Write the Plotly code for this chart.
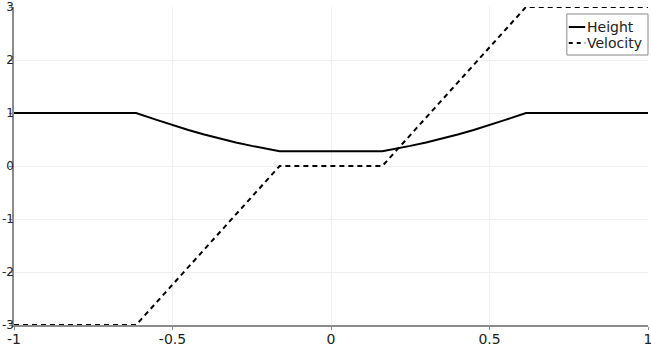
import plotly.graph_objects as go

x_height = [-1.0, -0.615, -0.55, -0.5, -0.45, -0.4, -0.35, -0.3, -0.25, -0.2, -0.162,
            0.162, 0.2, 0.25, 0.3, 0.35, 0.4, 0.45, 0.5, 0.55, 0.615, 1.0]
height = [1.0, 1.0, 0.87, 0.77, 0.68, 0.595, 0.515, 0.445, 0.38, 0.32, 0.28,
          0.28, 0.32, 0.38, 0.445, 0.515, 0.595, 0.68, 0.77, 0.87, 1.0, 1.0]
x_velocity = [-1.0, -0.615, -0.162, 0.162, 0.615, 1.0]
velocity = [-3.0, -3.0, 0.0, 0.0, 3.0, 3.0]

x_ticks = [-1, -0.5, 0, 0.5, 1]
x_ticklabels = ["-1", "-0.5", "0", "0.5", "1"]
y_ticks = [-3, -2, -1, 0, 1, 2, 3]
y_ticklabels = ["-3", "-2", "-1", "0", "1", "2", "3"]

FONT = "DejaVu Sans"

fig = go.Figure()
fig.add_trace(go.Scatter(x=x_height, y=height, mode="lines", name="Height",
                         line=dict(color="black", width=2), cliponaxis=False))
fig.add_trace(go.Scatter(x=x_velocity, y=velocity, mode="lines", name="Velocity",
                         line=dict(color="black", width=2, dash="5px,4px"), cliponaxis=False))

axis_common = dict(showgrid=True, gridcolor="#efefef", gridwidth=1,
                   showline=True, linecolor="#8c8c8c", linewidth=1.5,
                   ticks="outside", ticklen=3, tickcolor="#8c8c8c",
                   zeroline=False, automargin=False, ticklabeloverflow="allow")

fig.update_xaxes(range=[-1, 1], tickvals=x_ticks, ticktext=x_ticklabels, ticklabelstandoff=-3,
                 tickfont=dict(family=FONT, size=14, color="#222"), **axis_common)
fig.update_yaxes(range=[-3, 3], tickvals=y_ticks, ticktext=y_ticklabels, ticklabelstandoff=-7,
                 tickfont=dict(family=FONT, size=12, color="#222"), **axis_common)

# manual legend box
fig.add_shape(type="rect", xref="paper", yref="paper", x0=0.872, x1=1.0, y0=0.849, y1=0.978,
              line=dict(color="#888", width=1), fillcolor="white", layer="above")
fig.add_shape(type="line", xref="paper", yref="paper", x0=0.875, x1=0.901, y0=0.937, y1=0.937,
              line=dict(color="black", width=2), layer="above")
fig.add_shape(type="line", xref="paper", yref="paper", x0=0.875, x1=0.901, y0=0.887, y1=0.887,
              line=dict(color="black", width=2, dash="4px,4px"), layer="above")
fig.add_annotation(xref="paper", yref="paper", x=0.901, y=0.937, text="Height", showarrow=False,
                   xanchor="left", yanchor="middle", font=dict(family=FONT, size=14, color="#222"))
fig.add_annotation(xref="paper", yref="paper", x=0.901, y=0.887, text="Velocity", showarrow=False,
                   xanchor="left", yanchor="middle", font=dict(family=FONT, size=14, color="#222"))

fig.update_layout(width=651, height=346, showlegend=False,
                  margin=dict(l=14, r=3, t=7, b=21),
                  plot_bgcolor="white", paper_bgcolor="white")

fig.write_html("out.html")
